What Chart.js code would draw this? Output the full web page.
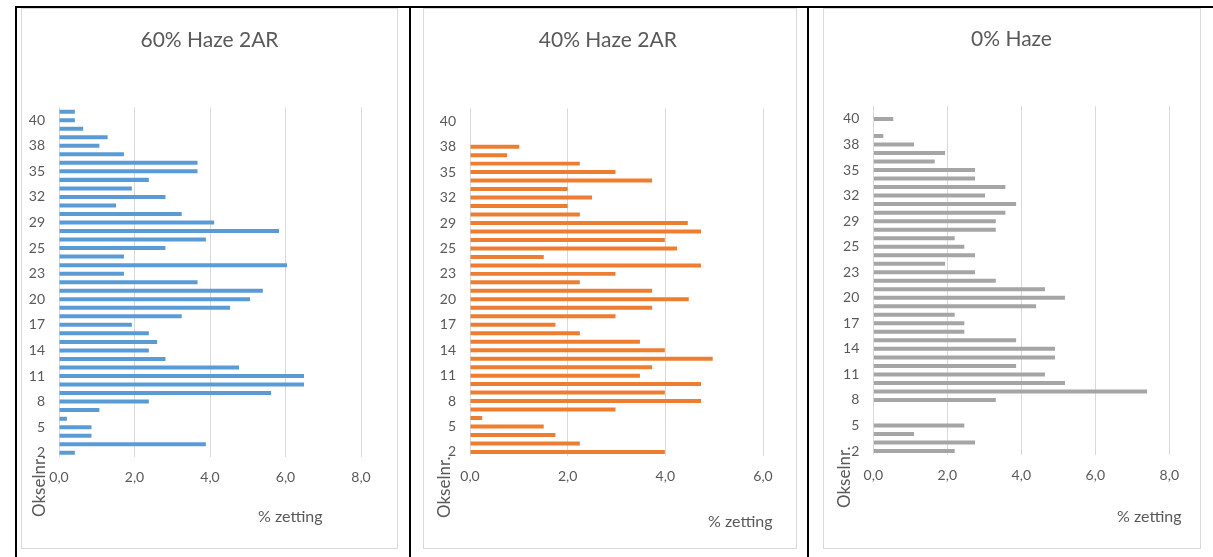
<!DOCTYPE html>
<html>
<head>
<meta charset="utf-8">
<title>% zetting per okselnr.</title>
<script src="https://cdn.jsdelivr.net/npm/chart.js@4.4.1/dist/chart.umd.min.js"></script>
<style>
  html, body { margin: 0; padding: 0; background: #fff; }
  body { width: 1213px; height: 557px; position: relative; overflow: hidden; }
  .rule { position: absolute; background: #000; }
  .panel { position: absolute; box-sizing: border-box; border: 1px solid #d9d9d9; background: #fff; }
  .panel canvas { position: absolute; left: 0; top: 0; }
</style>
</head>
<body>
<div class="rule" style="left:15px;top:6px;width:1198px;height:2px"></div>
<div class="rule" style="left:15px;top:6px;width:2px;height:551px"></div>
<div class="rule" style="left:409px;top:6px;width:2px;height:551px"></div>
<div class="rule" style="left:807px;top:6px;width:2px;height:551px"></div>

<div class="panel" style="left:21px;top:8px;width:377px;height:541px"><canvas id="c1" width="375" height="539"></canvas></div>
<div class="panel" style="left:423px;top:8px;width:374px;height:541px"><canvas id="c2" width="372" height="539"></canvas></div>
<div class="panel" style="left:823px;top:8px;width:378px;height:541px"><canvas id="c3" width="376" height="539"></canvas></div>

<script>
// Axle numbers, listed from the bottom row upwards
const categories = ['2','3','4','5','6','7','8','9','10','11','12','13','14','15','16','17','18','19','20','21',
  '22','23','24','24','25','26','28','29','30','31','32','33','34','35','36','37','38','39','39','40','41'];

// % zetting per axle, same order as the categories
const haze60 = [0.42, 3.89, 0.86, 0.86, 0.21, 1.07, 2.38, 5.62, 6.49, 6.49,
  4.77, 2.82, 2.38, 2.60, 2.38, 1.93, 3.25, 4.53, 5.06, 5.40,
  3.67, 1.72, 6.04, 1.72, 2.82, 3.89, 5.83, 4.11, 3.25, 1.51,
  2.82, 1.93, 2.38, 3.67, 3.67, 1.72, 1.07, 1.29, 0.64, 0.42, 0.42];

const haze40 = [3.99, 2.25, 1.75, 1.51, 0.25, 2.98, 4.73, 3.99, 4.73, 3.48,
  3.73, 4.97, 3.99, 3.48, 2.25, 1.75, 2.98, 3.73, 4.48, 3.73,
  2.25, 2.98, 4.73, 1.51, 4.24, 3.99, 4.73, 4.46, 2.25, 2.00,
  2.50, 2.00, 3.73, 2.98, 2.25, 0.76, 1.01, null, null, null, null];

const haze0 = [2.20, 2.75, 1.10, 2.46, null, null, 3.31, 7.40, 5.18, 4.64,
  3.86, 4.91, 4.91, 3.86, 2.46, 2.46, 2.20, 4.40, 5.18, 4.64,
  3.31, 2.75, 1.94, 2.75, 2.46, 2.20, 3.31, 3.31, 3.57, 3.86,
  3.02, 3.57, 2.75, 2.75, 1.66, 1.94, 1.10, 0.27, null, 0.54, null];

const panelTitles = ['60% Haze 2AR', '40% Haze 2AR', '0% Haze'];
const xAxisMax = [8, 6, 8];
const xAxisTitle = '% zetting';
const yAxisTitle = 'Okselnr.';

const FONT = 'Lato, "Open Sans", sans-serif';
const TEXT = '#595959';
const AXIS_W = 30;   // fixed width of the category axis
const AXIS_H = 30;   // fixed height of the value axis

// Draws the chart title and the two axis titles at fixed spots
const panelText = {
  id: 'panelText',
  afterDraw(chart, args, o) {
    const ctx = chart.ctx;
    ctx.save();
    ctx.fillStyle = TEXT;
    ctx.textBaseline = 'middle';
    ctx.font = '21px ' + FONT;
    ctx.textAlign = 'center';
    ctx.fillText(o.title, o.titleX, o.titleY);
    ctx.font = '16px ' + FONT;
    ctx.textAlign = 'left';
    ctx.fillText(o.xTitle, o.xTitleX, o.xTitleY);
    ctx.font = '17px ' + FONT;
    ctx.translate(o.yTitleX, o.yTitleY);
    ctx.rotate(-Math.PI / 2);
    ctx.fillText(o.yTitle, 0, 0);
    ctx.restore();
  }
};

function makeChart(id, values, color, title, xMax, g) {
  const canvas = document.getElementById(id);
  const W = canvas.width, H = canvas.height;
  const ox = g.canvasX, oy = g.canvasY;
  const left = g.plotLeft - ox, right = g.plotRight - ox;
  const top = g.plotTop - oy, bottom = g.plotBottom - oy;

  return new Chart(canvas, {
    type: 'bar',
    data: {
      labels: categories,
      datasets: [{
        data: values,
        backgroundColor: color,
        borderWidth: 0,
        categoryPercentage: 1,
        barPercentage: 0.47
      }]
    },
    options: {
      indexAxis: 'y',
      responsive: false,
      animation: false,
      layout: {
        padding: { left: left - AXIS_W, right: W - right, top: top, bottom: H - bottom - AXIS_H }
      },
      plugins: {
        legend: { display: false },
        title: { display: false },
        tooltip: { enabled: false },
        panelText: {
          title: title,
          titleX: g.titleX - ox, titleY: g.titleY - oy,
          xTitle: xAxisTitle, xTitleX: g.xTitleX - ox, xTitleY: g.xTitleY - oy,
          yTitle: yAxisTitle, yTitleX: g.yTitleX - ox, yTitleY: g.yTitleY - oy
        }
      },
      scales: {
        x: {
          type: 'linear',
          min: 0,
          max: xMax,
          ticks: {
            stepSize: 2,
            color: TEXT,
            padding: 12,
            font: { family: FONT, size: 14 },
            callback: v => v.toFixed(1).replace('.', ',')
          },
          grid: { color: '#d9d9d9', lineWidth: 1, drawTicks: false },
          border: { display: false },
          afterFit(s) { s.height = AXIS_H; s.paddingLeft = 0; s.paddingRight = 0; }
        },
        y: {
          type: 'category',
          reverse: true,
          offset: true,
          ticks: {
            autoSkip: false,
            color: TEXT,
            padding: 14,
            font: { family: FONT, size: 14 },
            callback(v, i) { return i % 3 === 0 ? this.getLabelForValue(v) : ''; }
          },
          grid: { display: false, drawTicks: false },
          border: { display: false },
          afterFit(s) { s.width = AXIS_W; s.paddingTop = 0; s.paddingBottom = 0; }
        }
      }
    },
    plugins: [panelText]
  });
}

makeChart('c1', haze60, '#5B9BD5', panelTitles[0], xAxisMax[0], {
  canvasX: 22, canvasY: 9,
  plotLeft: 59, plotRight: 361, plotTop: 107.4, plotBottom: 457,
  titleX: 209.5, titleY: 40, xTitleX: 258, xTitleY: 517, yTitleX: 40, yTitleY: 517
});
makeChart('c2', haze40, '#ED7D31', panelTitles[1], xAxisMax[1], {
  canvasX: 424, canvasY: 9,
  plotLeft: 470, plotRight: 763, plotTop: 108.5, plotBottom: 456.2,
  titleX: 607.8, titleY: 40, xTitleX: 708, xTitleY: 522, yTitleX: 445, yTitleY: 518
});
makeChart('c3', haze0, '#A5A5A5', panelTitles[2], xAxisMax[2], {
  canvasX: 824, canvasY: 9,
  plotLeft: 873.3, plotRight: 1169.3, plotTop: 106.2, plotBottom: 455.3,
  titleX: 1011.5, titleY: 39, xTitleX: 1117, xTitleY: 516.5, yTitleX: 845, yTitleY: 508
});
</script>
</body>
</html>
